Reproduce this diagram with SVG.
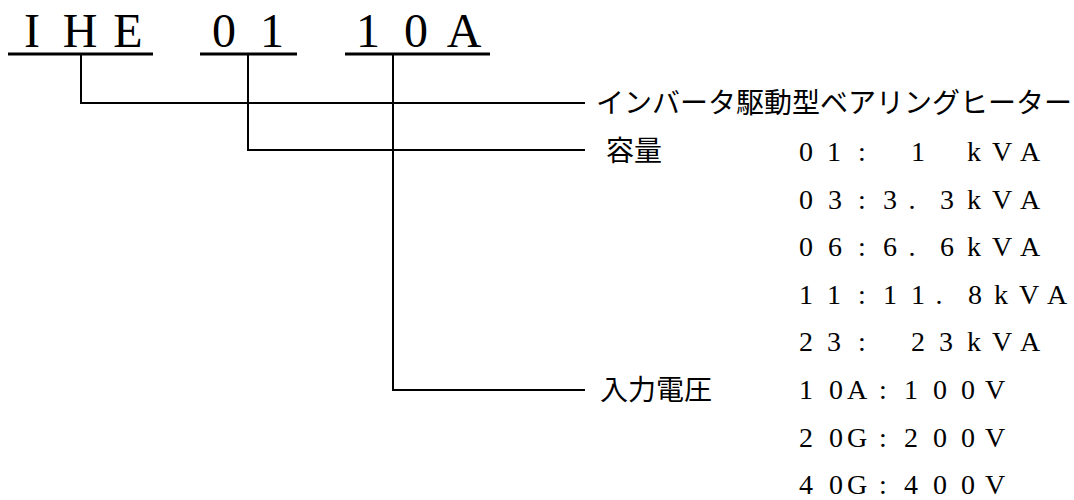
<svg xmlns="http://www.w3.org/2000/svg" width="1074" height="500" viewBox="0 0 1074 500">
<style>
.title{font-family:"Liberation Serif","Noto Sans CJK JP",serif;font-size:48px;fill:#000;text-anchor:middle}
.val{font-family:"Liberation Serif","Noto Sans CJK JP",serif;font-size:28px;fill:#000;text-anchor:middle}
.lbl{font-family:"Noto Sans CJK JP","Noto Sans CJK SC",sans-serif;font-size:28px;fill:#000}
.ul{stroke:#000;stroke-width:3;fill:none}
.conn{stroke:#000;stroke-width:2;fill:none}
</style>
<rect width="1074" height="500" fill="#fff"/>
<g id="code">
<text class="title" x="32 80 128" y="47">IHE</text>
<text class="title" x="224 272" y="47">01</text>
<text class="title" x="368 416 464" y="47">10A</text>
<line class="ul" x1="8" y1="54" x2="153" y2="54"/>
<line class="ul" x1="200" y1="54" x2="297" y2="54"/>
<line class="ul" x1="345" y1="54" x2="490" y2="54"/>
</g>
<g id="connectors">
<path class="conn" d="M81 54 V103 H585"/>
<path class="conn" d="M248 54 V150 H585"/>
<path class="conn" d="M393 54 V390 H585"/>
</g>
<g id="type">
<text class="lbl" x="596" y="113">インバータ駆動型ベアリングヒーター</text>
</g>
<g id="capacity">
<text class="lbl" x="606" y="161">容量</text>
<text class="val" x="806 834 862 918 974 1002 1030" y="161">01:1kVA</text>
<text class="val" x="806 835 862 890 912 947 974 1002 1030" y="209">03:3.3kVA</text>
<text class="val" x="806 835 862 890 912 947 974 1002 1030" y="256">06:6.6kVA</text>
<text class="val" x="806 834 862 890 918 939 975 1001 1029 1057" y="304">11:11.8kVA</text>
<text class="val" x="806 834 862 918 946 974 1002 1030" y="351">23:23kVA</text>
</g>
<g id="voltage">
<text class="lbl" x="600" y="400">入力電圧</text>
<text class="val" x="806 836 857 883 911 940 968 995" y="399">10A:100V</text>
<text class="val" x="806 836 857 883 911 940 968 995" y="447">20G:200V</text>
<text class="val" x="806 836 857 883 911 940 968 995" y="494">40G:400V</text>
</g>
</svg>
